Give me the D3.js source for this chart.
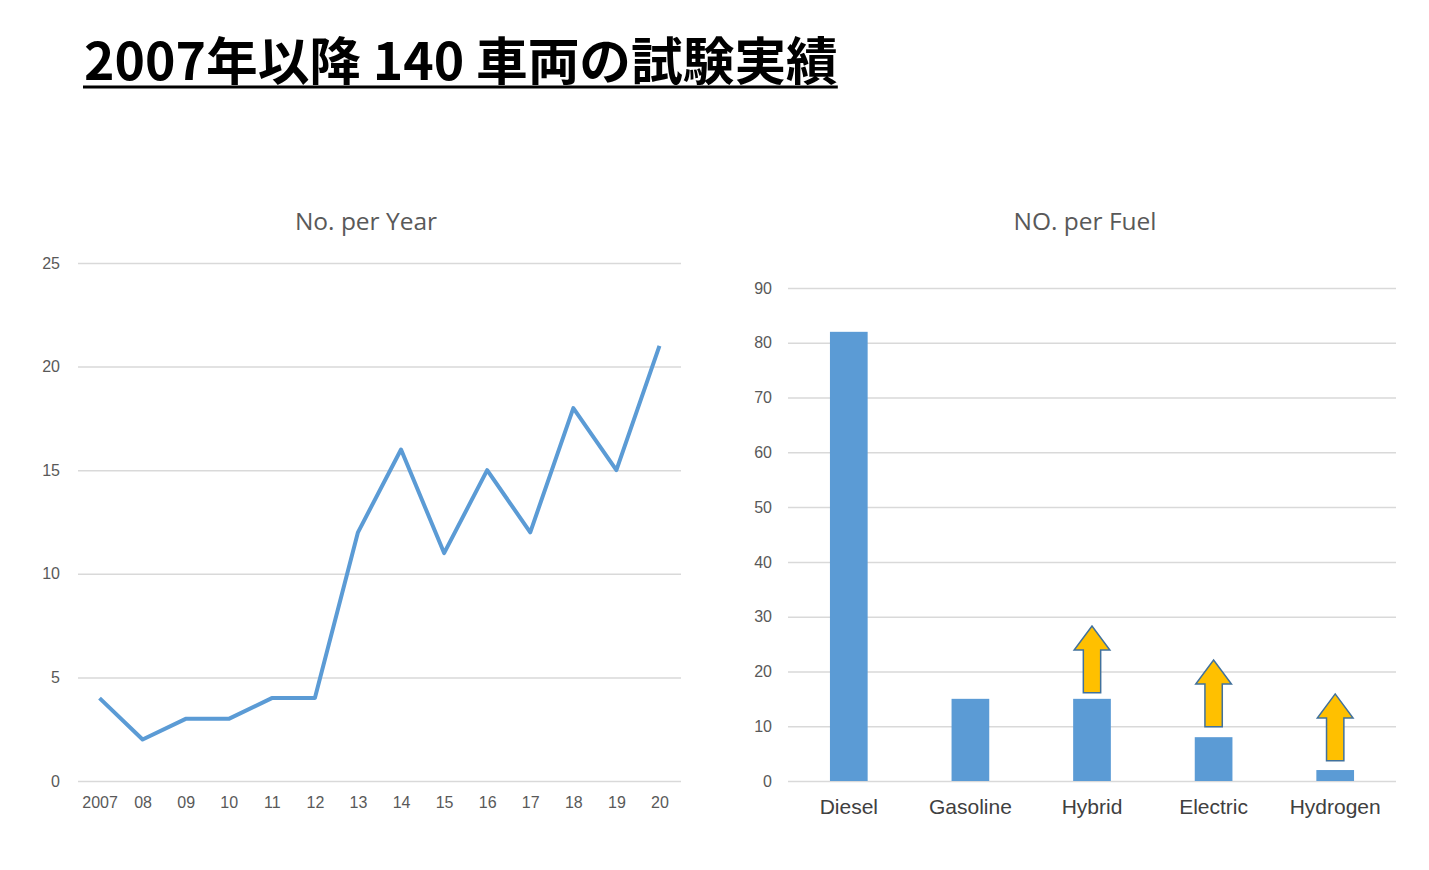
<!DOCTYPE html>
<html><head><meta charset="utf-8">
<script src="https://cdn.jsdelivr.net/npm/d3@7"></script>
<style>body{margin:0;background:#fff}svg{display:block}</style>
</head><body>
<svg id="c" width="1429" height="870"></svg>
<script>
const years = ["2007","08","09","10","11","12","13","14","15","16","17","18","19","20"];
const perYear = [4,2,3,3,4,4,12,16,11,15,12,18,15,21];
const yearTicks = [0,5,10,15,20,25];
const fuels = ["Diesel","Gasoline","Hybrid","Electric","Hydrogen"];
const perFuel = [82,15,15,8,2];
const fuelTicks = [0,10,20,30,40,50,60,70,80,90];
// growth arrows: category, base value, tip value
const arrowFuel = ["Hybrid","Electric","Hydrogen"];
const arrowBase = [16.1,9.9,3.7];
const arrowTip = [28.3,22.1,15.9];

const svg = d3.select("#c");
const grey = "#595959", grid = "#d9d9d9", blue = "#5B9BD5";
const font = "'Liberation Sans', Arial, sans-serif";

// Title
const title = svg.append("text").attr("x",84).attr("y",80)
  .attr("font-family","'Noto Sans CJK JP', sans-serif").attr("font-weight","bold")
  .attr("font-size",46).attr("fill","#000").text("2007年以降 140 車両の試験実績");
let w = title.node().getComputedTextLength();
const target = 754;
title.attr("font-size", 46*target/w);
w = title.node().getComputedTextLength();
svg.append("line").attr("x1",83).attr("x2",84+w).attr("y1",87).attr("y2",87)
  .attr("stroke","#000").attr("stroke-width",3);

// Left chart
{
  const x0=78,x1=681,yTop=263,yBot=781;
  const x = d3.scalePoint().domain(years).range([x0,x1]).padding(0.5);
  const y = d3.scaleLinear().domain([0,25]).range([yBot,yTop]);
  const g = svg.append("g");
  g.append("text").attr("x",366).attr("y",230).attr("text-anchor","middle")
    .attr("font-family","'Open Sans', sans-serif").attr("font-size",24.5).attr("fill",grey).text("No. per Year");
  const ya = d3.axisLeft(y).tickValues(yearTicks).tickSize(-(x1-x0)).tickPadding(18);
  const ag = g.append("g").attr("transform",`translate(${x0},0)`).call(ya);
  ag.select(".domain").remove();
  ag.selectAll(".tick line").attr("stroke",grid).attr("stroke-width",1.5);
  ag.selectAll(".tick text").attr("fill",grey).attr("font-size",16).attr("font-family",font);
  const xa = d3.axisBottom(x).tickSize(0).tickPadding(16);
  const xg = g.append("g").attr("transform",`translate(0,${yBot})`).call(xa);
  xg.select(".domain").remove();
  xg.selectAll(".tick text").attr("fill",grey).attr("font-size",16).attr("font-family",font);
  const line = d3.line().x((d,i)=>x(years[i])).y(d=>y(d));
  g.append("path").datum(perYear).attr("d",line).attr("fill","none")
    .attr("stroke",blue).attr("stroke-width",4).attr("stroke-linejoin","round");
}

// Right chart
{
  const x0=788,x1=1396,yTop=288,yBot=781;
  const x = d3.scaleBand().domain(fuels).range([x0,x1]).paddingInner(0.69).paddingOuter(0.345);
  const y = d3.scaleLinear().domain([0,90]).range([yBot,yTop]);
  const g = svg.append("g");
  g.append("text").attr("x",1085).attr("y",230).attr("text-anchor","middle")
    .attr("font-family","'Open Sans', sans-serif").attr("font-size",24.5).attr("fill",grey).text("NO. per Fuel");
  const ya = d3.axisLeft(y).tickValues(fuelTicks).tickSize(-(x1-x0)).tickPadding(16);
  const ag = g.append("g").attr("transform",`translate(${x0},0)`).call(ya);
  ag.select(".domain").remove();
  ag.selectAll(".tick line").attr("stroke",grid).attr("stroke-width",1.5);
  ag.selectAll(".tick text").attr("fill",grey).attr("font-size",16).attr("font-family",font);
  g.selectAll("rect.bar").data(perFuel).join("rect").attr("class","bar")
    .attr("x",(d,i)=>x(fuels[i])).attr("width",x.bandwidth())
    .attr("y",d=>y(d)).attr("height",d=>yBot-y(d)).attr("fill",blue);
  const xa = d3.axisBottom(x).tickSize(0).tickPadding(18);
  const xg = g.append("g").attr("transform",`translate(0,${yBot})`).call(xa);
  xg.select(".domain").remove();
  xg.selectAll(".tick text").attr("fill","#404040").attr("font-size",21).attr("font-family",font);
  // arrows
  const headH = 4.4; // in data units
  arrowFuel.forEach((f,i)=>{
    const cx = x(f)+x.bandwidth()/2;
    const hw = x.bandwidth()/2 - 1, sw = x.bandwidth()*0.23;
    const yb = y(arrowBase[i]), yt = y(arrowTip[i]), yh = y(arrowTip[i]-headH);
    const pts = [[cx-sw,yb],[cx-sw,yh],[cx-hw,yh],[cx,yt],[cx+hw,yh],[cx+sw,yh],[cx+sw,yb]];
    g.append("path").attr("d",d3.line()(pts)+"Z").attr("fill","#FFC000")
      .attr("stroke","#41719C").attr("stroke-width",1.5).attr("stroke-linejoin","miter");
  });
}
</script>
</body></html>
